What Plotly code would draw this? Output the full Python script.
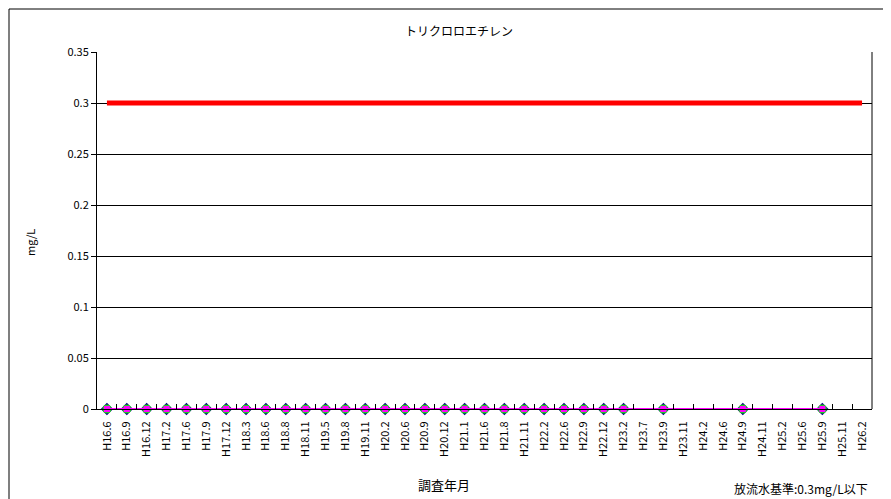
import plotly.graph_objects as go

categories = ["H16.6", "H16.9", "H16.12", "H17.2", "H17.6", "H17.9", "H17.12", "H18.3",
              "H18.6", "H18.8", "H18.11", "H19.5", "H19.8", "H19.11", "H20.2", "H20.6",
              "H20.9", "H20.12", "H21.1", "H21.6", "H21.8", "H21.11", "H22.2", "H22.6",
              "H22.9", "H22.12", "H23.2", "H23.7", "H23.9", "H23.11", "H24.2", "H24.6",
              "H24.9", "H24.11", "H25.2", "H25.6", "H25.9", "H25.11", "H26.2"]

# measured values (ND -> 0), None = not measured
series_a = [0] * 27 + [None, 0, None, None, None, 0, None, None, None, 0, None, None]
series_b = [0] * 27 + [None, 0, None, None, None, 0, None, None, None, 0, None, None]
series_c = [0] * 27 + [None, 0, None, None, None, 0, None, None, None, 0, None, None]
standard = [0.3] * len(categories)

y_ticks = [0, 0.05, 0.1, 0.15, 0.2, 0.25, 0.3, 0.35]
y_labels = ["0", "0.05", "0.1", "0.15", "0.2", "0.25", "0.3", "0.35"]

FONT = "Noto Sans CJK JP, Noto Sans, sans-serif"

fig = go.Figure()
fig.add_trace(go.Scatter(x=categories, y=standard, mode="lines", cliponaxis=False,
                         line=dict(color="#FF0000", width=5), name="基準"))
fig.add_trace(go.Scatter(x=categories, y=series_a, mode="lines+markers", connectgaps=True,
                         cliponaxis=False,
                         line=dict(color="#A58BD8", width=2),
                         marker=dict(symbol="diamond", size=9.5, color="#000080"), name="A"))
fig.add_trace(go.Scatter(x=categories, y=series_b, mode="lines+markers", connectgaps=True,
                         cliponaxis=False,
                         line=dict(color="#33CC33", width=1),
                         marker=dict(symbol="circle", size=9, color="#22CC22"), name="B"))
fig.add_trace(go.Scatter(x=categories, y=series_c, mode="lines+markers", connectgaps=True,
                         cliponaxis=False,
                         line=dict(color="#FF00FF", width=2),
                         marker=dict(symbol="square", size=6, color="#FF00FF"), name="C"))

OFF = 8  # default page body margin
W, H = 891 - OFF, 499 - OFF
# target pixel positions in the 891x499 window
PL, PR, PT, PB = 97, 872, 52, 409
L, T = PL - OFF, PT - OFF
R, B = W - (PR - OFF), H - (PB - OFF)
pw, ph = PR - PL, PB - PT

def px(x):
    return (x - PL) / pw

def py(y):
    return (PB - y) / ph

fig.update_layout(
    width=W, height=H,
    margin=dict(l=L, r=R, t=T, b=B, pad=0),
    paper_bgcolor="white", plot_bgcolor="white",
    showlegend=False,
    font=dict(family=FONT, size=11, color="black"),
    xaxis=dict(type="category", categoryorder="array", categoryarray=categories,
               range=[-0.5, len(categories) - 0.5],
               tickangle=-90, ticks="inside", tickson="boundaries", ticklen=5,
               tickcolor="black", showline=True, linecolor="black", linewidth=1,
               ticklabelstandoff=7,
               showgrid=False, tickfont=dict(size=11, family=FONT), fixedrange=True),
    yaxis=dict(range=[0, 0.35], tickvals=y_ticks, ticktext=y_labels,
               ticks="outside", ticklen=5, tickcolor="black",
               showline=True, linecolor="black", linewidth=1,
               showgrid=True, gridcolor="black", gridwidth=1, zeroline=False,
               tickfont=dict(size=11, family=FONT)),
    shapes=[
        dict(type="line", xref="paper", yref="paper", x0=1, x1=1, y0=0, y1=1,
             line=dict(color="black", width=1)),
        dict(type="line", xref="paper", yref="paper", x0=px(9), x1=px(9), y0=py(9), y1=py(499),
             line=dict(color="#555555", width=1.5)),
        dict(type="line", xref="paper", yref="paper", x0=px(9), x1=px(891), y0=py(9), y1=py(9),
             line=dict(color="black", width=1)),
    ],
    annotations=[
        dict(text="トリクロロエチレン", xref="paper", yref="paper", x=px(459), y=py(30),
             showarrow=False, font=dict(size=12, family=FONT), xanchor="center", yanchor="middle"),
        dict(text="mg/L", xref="paper", yref="paper", x=px(30), y=py(243), textangle=-90,
             showarrow=False, font=dict(size=11, family=FONT), xanchor="center", yanchor="middle"),
        dict(text="調査年月", xref="paper", yref="paper", x=px(444), y=py(485),
             showarrow=False, font=dict(size=13, family=FONT), xanchor="center", yanchor="middle"),
        dict(text="放流水基準:0.3mg/L以下", xref="paper", yref="paper", x=px(870), y=py(488),
             showarrow=False, font=dict(size=12, family=FONT), xanchor="right", yanchor="middle"),
    ],
)

fig.write_html("out.html")
